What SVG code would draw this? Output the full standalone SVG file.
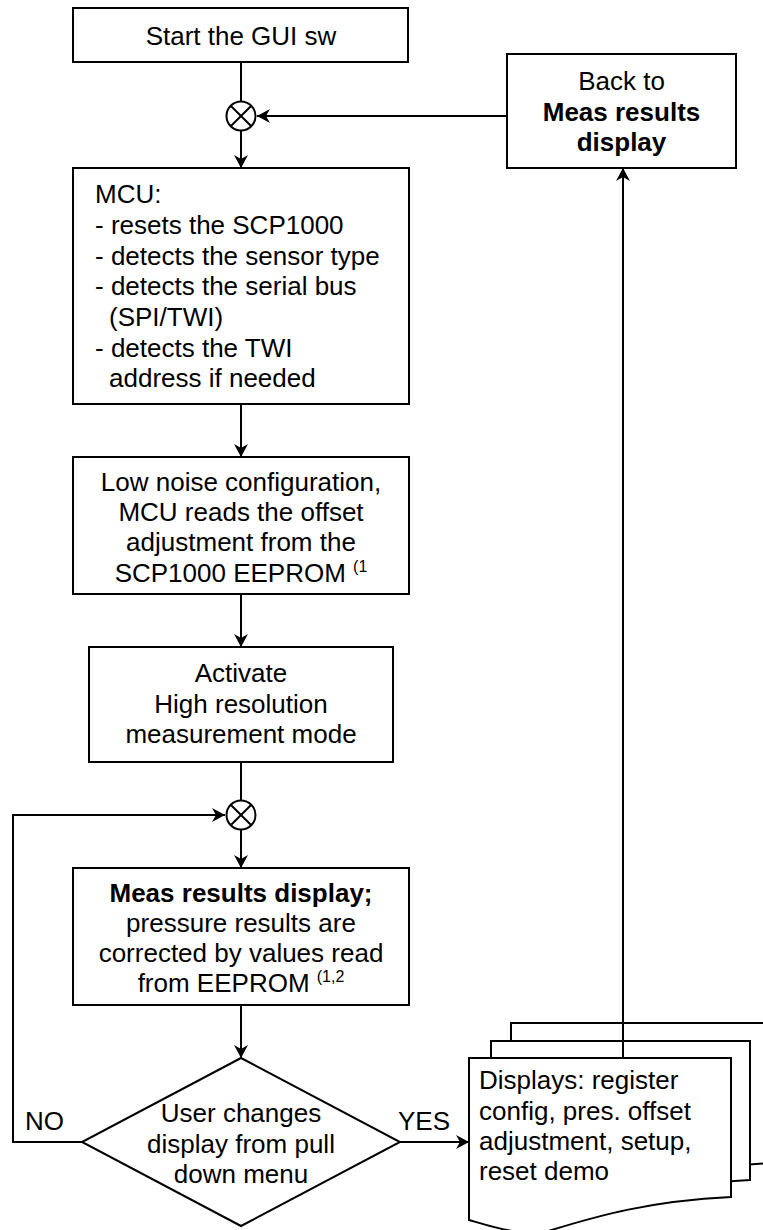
<svg xmlns="http://www.w3.org/2000/svg" width="763" height="1230" viewBox="0 0 763 1230">
<style>
.box{fill:#fff;stroke:#000;stroke-width:2}
.ln{fill:none;stroke:#000;stroke-width:2}
.arr{marker-end:url(#ah)}
text{font-family:"Liberation Sans",Arial,Helvetica,sans-serif;font-size:26px;fill:#000}
.c{text-anchor:middle}
.b{font-weight:bold}
.sup{font-size:16px}
</style>
<defs>
<marker id="ah" viewBox="0 0 13 14" refX="13" refY="7" markerWidth="13" markerHeight="14" markerUnits="userSpaceOnUse" orient="auto">
<path d="M0,0 L13,7 L0,14 L4,7 z" fill="#000"/>
</marker>
</defs>
<rect width="763" height="1230" fill="#fff"/>

<g id="connectors">
<path class="ln" d="M241,62 V101"/>
<path class="ln arr" d="M241,131 V168"/>
<path class="ln arr" d="M507,116 H257"/>
<path class="ln arr" d="M241,404 V457"/>
<path class="ln arr" d="M241,594 V647"/>
<path class="ln" d="M241,762 V800"/>
<path class="ln arr" d="M241,830 V868"/>
<path class="ln arr" d="M241,1005 V1058"/>
<path class="ln arr" d="M82,1142 H13 V815 H225"/>
<path class="ln arr" d="M400,1142 H469"/>
</g>

<g id="start">
<rect class="box" x="73" y="8" width="335" height="54"/>
<text class="c" x="241" y="45">Start the GUI sw</text>
</g>

<g id="junction1">
<circle class="box" cx="241" cy="116" r="14.5"/>
<path class="ln" d="M230.7,105.7 L251.3,126.3 M251.3,105.7 L230.7,126.3"/>
</g>

<g id="back">
<rect class="box" x="507" y="54" width="229" height="114"/>
<text class="c" x="621.5" y="90">Back to</text>
<text class="c b" x="621.5" y="121">Meas results</text>
<text class="c b" x="621.5" y="151">display</text>
</g>

<g id="mcu">
<rect class="box" x="73" y="168" width="336" height="236"/>
<text x="95" y="203">MCU:</text>
<text x="95" y="234">- resets the SCP1000</text>
<text x="95" y="265">- detects the sensor type</text>
<text x="95" y="295">- detects the serial bus</text>
<text x="109" y="326">(SPI/TWI)</text>
<text x="95" y="357">- detects the TWI</text>
<text x="109" y="387">address if needed</text>
</g>

<g id="lownoise">
<rect class="box" x="73" y="457" width="336" height="137"/>
<text class="c" x="241" y="491">Low noise configuration,</text>
<text class="c" x="241" y="521">MCU reads the offset</text>
<text class="c" x="241" y="551">adjustment from the</text>
<text class="c" x="241" y="582">SCP1000 EEPROM <tspan class="sup" dy="-10">(1</tspan></text>
</g>

<g id="activate">
<rect class="box" x="89" y="647" width="304" height="115"/>
<text class="c" x="241" y="682">Activate</text>
<text class="c" x="241" y="713">High resolution</text>
<text class="c" x="241" y="743">measurement mode</text>
</g>

<g id="junction2">
<circle class="box" cx="241" cy="815" r="14.5"/>
<path class="ln" d="M230.7,804.7 L251.3,825.3 M251.3,804.7 L230.7,825.3"/>
</g>

<g id="meas">
<rect class="box" x="73" y="868" width="336" height="137"/>
<text class="c b" x="241" y="902">Meas results display;</text>
<text class="c" x="241" y="932">pressure results are</text>
<text class="c" x="241" y="962">corrected by values read</text>
<text class="c" x="241" y="992">from EEPROM <tspan class="sup" dy="-10">(1,2</tspan></text>
</g>

<g id="decision">
<polygon class="box" points="241,1058 400,1142 241,1226 82,1142"/>
<text class="c" x="241" y="1122">User changes</text>
<text class="c" x="241" y="1153">display from pull</text>
<text class="c" x="241" y="1183">down menu</text>
</g>

<g id="labels">
<text x="25" y="1130">NO</text>
<text x="398" y="1130">YES</text>
</g>

<g id="displays">
<path class="box" d="M511,1023 H773 V1163 C692,1166 642,1181 587,1198 C562,1202 532,1192 511,1186 Z"/>
<path class="box" d="M491,1041 H750 V1180 C670,1184 620,1198 565,1215 C540,1219 510,1209 491,1203 Z"/>
<path class="box" d="M469,1058 H731 V1197 C650,1201 600,1215 545,1232 C520,1236 490,1226 469,1220 Z"/>
<text x="479" y="1089">Displays: register</text>
<text x="479" y="1120">config, pres. offset</text>
<text x="479" y="1150">adjustment, setup,</text>
<text x="479" y="1180">reset demo</text>
</g>

<g id="connectors-top">
<path class="ln arr" d="M623,1058 V168"/>
</g>
</svg>
